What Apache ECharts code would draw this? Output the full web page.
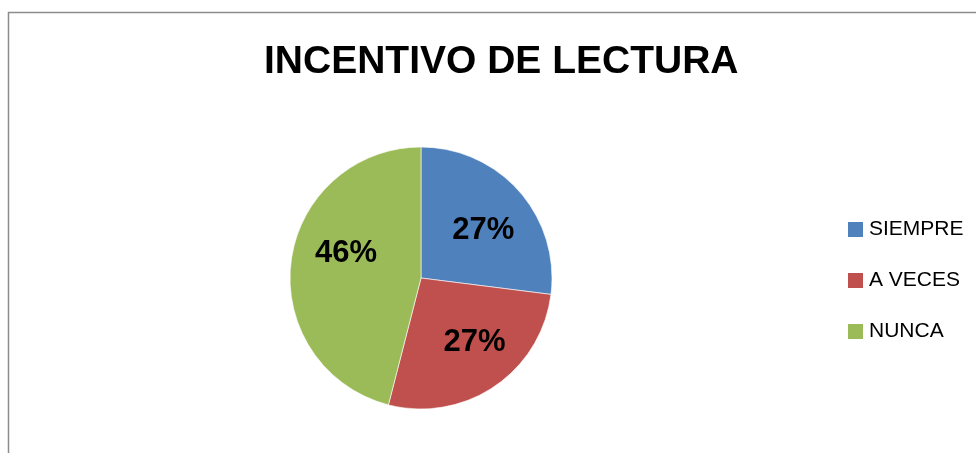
<!DOCTYPE html>
<html>
<head>
<meta charset="utf-8">
<script src="https://cdn.jsdelivr.net/npm/echarts@6/dist/echarts.min.js"></script>
<style>
html,body{margin:0;padding:0;background:#fff;}
#chart{width:976px;height:453px;}
</style>
</head>
<body>
<div id="chart"></div>
<script>
const titleText = 'INCENTIVO DE LECTURA';
const categories = ['SIEMPRE', 'A VECES', 'NUNCA'];
const values = [27, 27, 46];
const colors = ['#4F81BD', '#C0504D', '#9BBB59'];
const labelOffsets = [[11, -2], [15, 8], [-7, -16]];

const chart = echarts.init(document.getElementById('chart'), null, {renderer: 'canvas'});
chart.setOption({
  backgroundColor: '#ffffff',
  animation: false,
  title: {
    text: titleText,
    left: 259,
    top: 38,
    textStyle: {
      fontFamily: '"Liberation Sans", sans-serif',
      fontWeight: 'bold',
      fontSize: 39,
      color: '#000'
    }
  },
  graphic: [{
    type: 'rect',
    shape: {x: 8.5, y: 12.5, width: 1100, height: 600},
    style: {fill: 'none', stroke: '#8c8c8c', lineWidth: 1.5},
    silent: true
  }],
  legend: {
    orient: 'vertical',
    left: 841,
    top: 214,
    itemWidth: 17,
    itemHeight: 17,
    itemGap: 30,
    icon: 'rect',
    data: categories,
    textStyle: {
      fontFamily: '"Liberation Sans", sans-serif',
      fontSize: 21,
      lineHeight: 21,
      color: '#000',
      padding: [0, 0, 0, 0]
    },
    formatter: name => name
  },
  series: [{
    type: 'pie',
    center: [421, 278],
    radius: 131,
    startAngle: 90,
    clockwise: true,
    avoidLabelOverlap: false,
    itemStyle: {borderColor: '#ffffff', borderWidth: 0.6},
    label: {
      show: true,
      position: 'inside',
      formatter: '{d}%',
      fontFamily: '"Liberation Sans", sans-serif',
      fontWeight: 'bold',
      fontSize: 31,
      color: '#000'
    },
    labelLine: {show: false},
    emphasis: {disabled: true},
    data: categories.map((c, i) => ({
      name: c,
      value: values[i],
      itemStyle: {color: colors[i]},
      label: {offset: labelOffsets[i]}
    }))
  }]
});
</script>
</body>
</html>
